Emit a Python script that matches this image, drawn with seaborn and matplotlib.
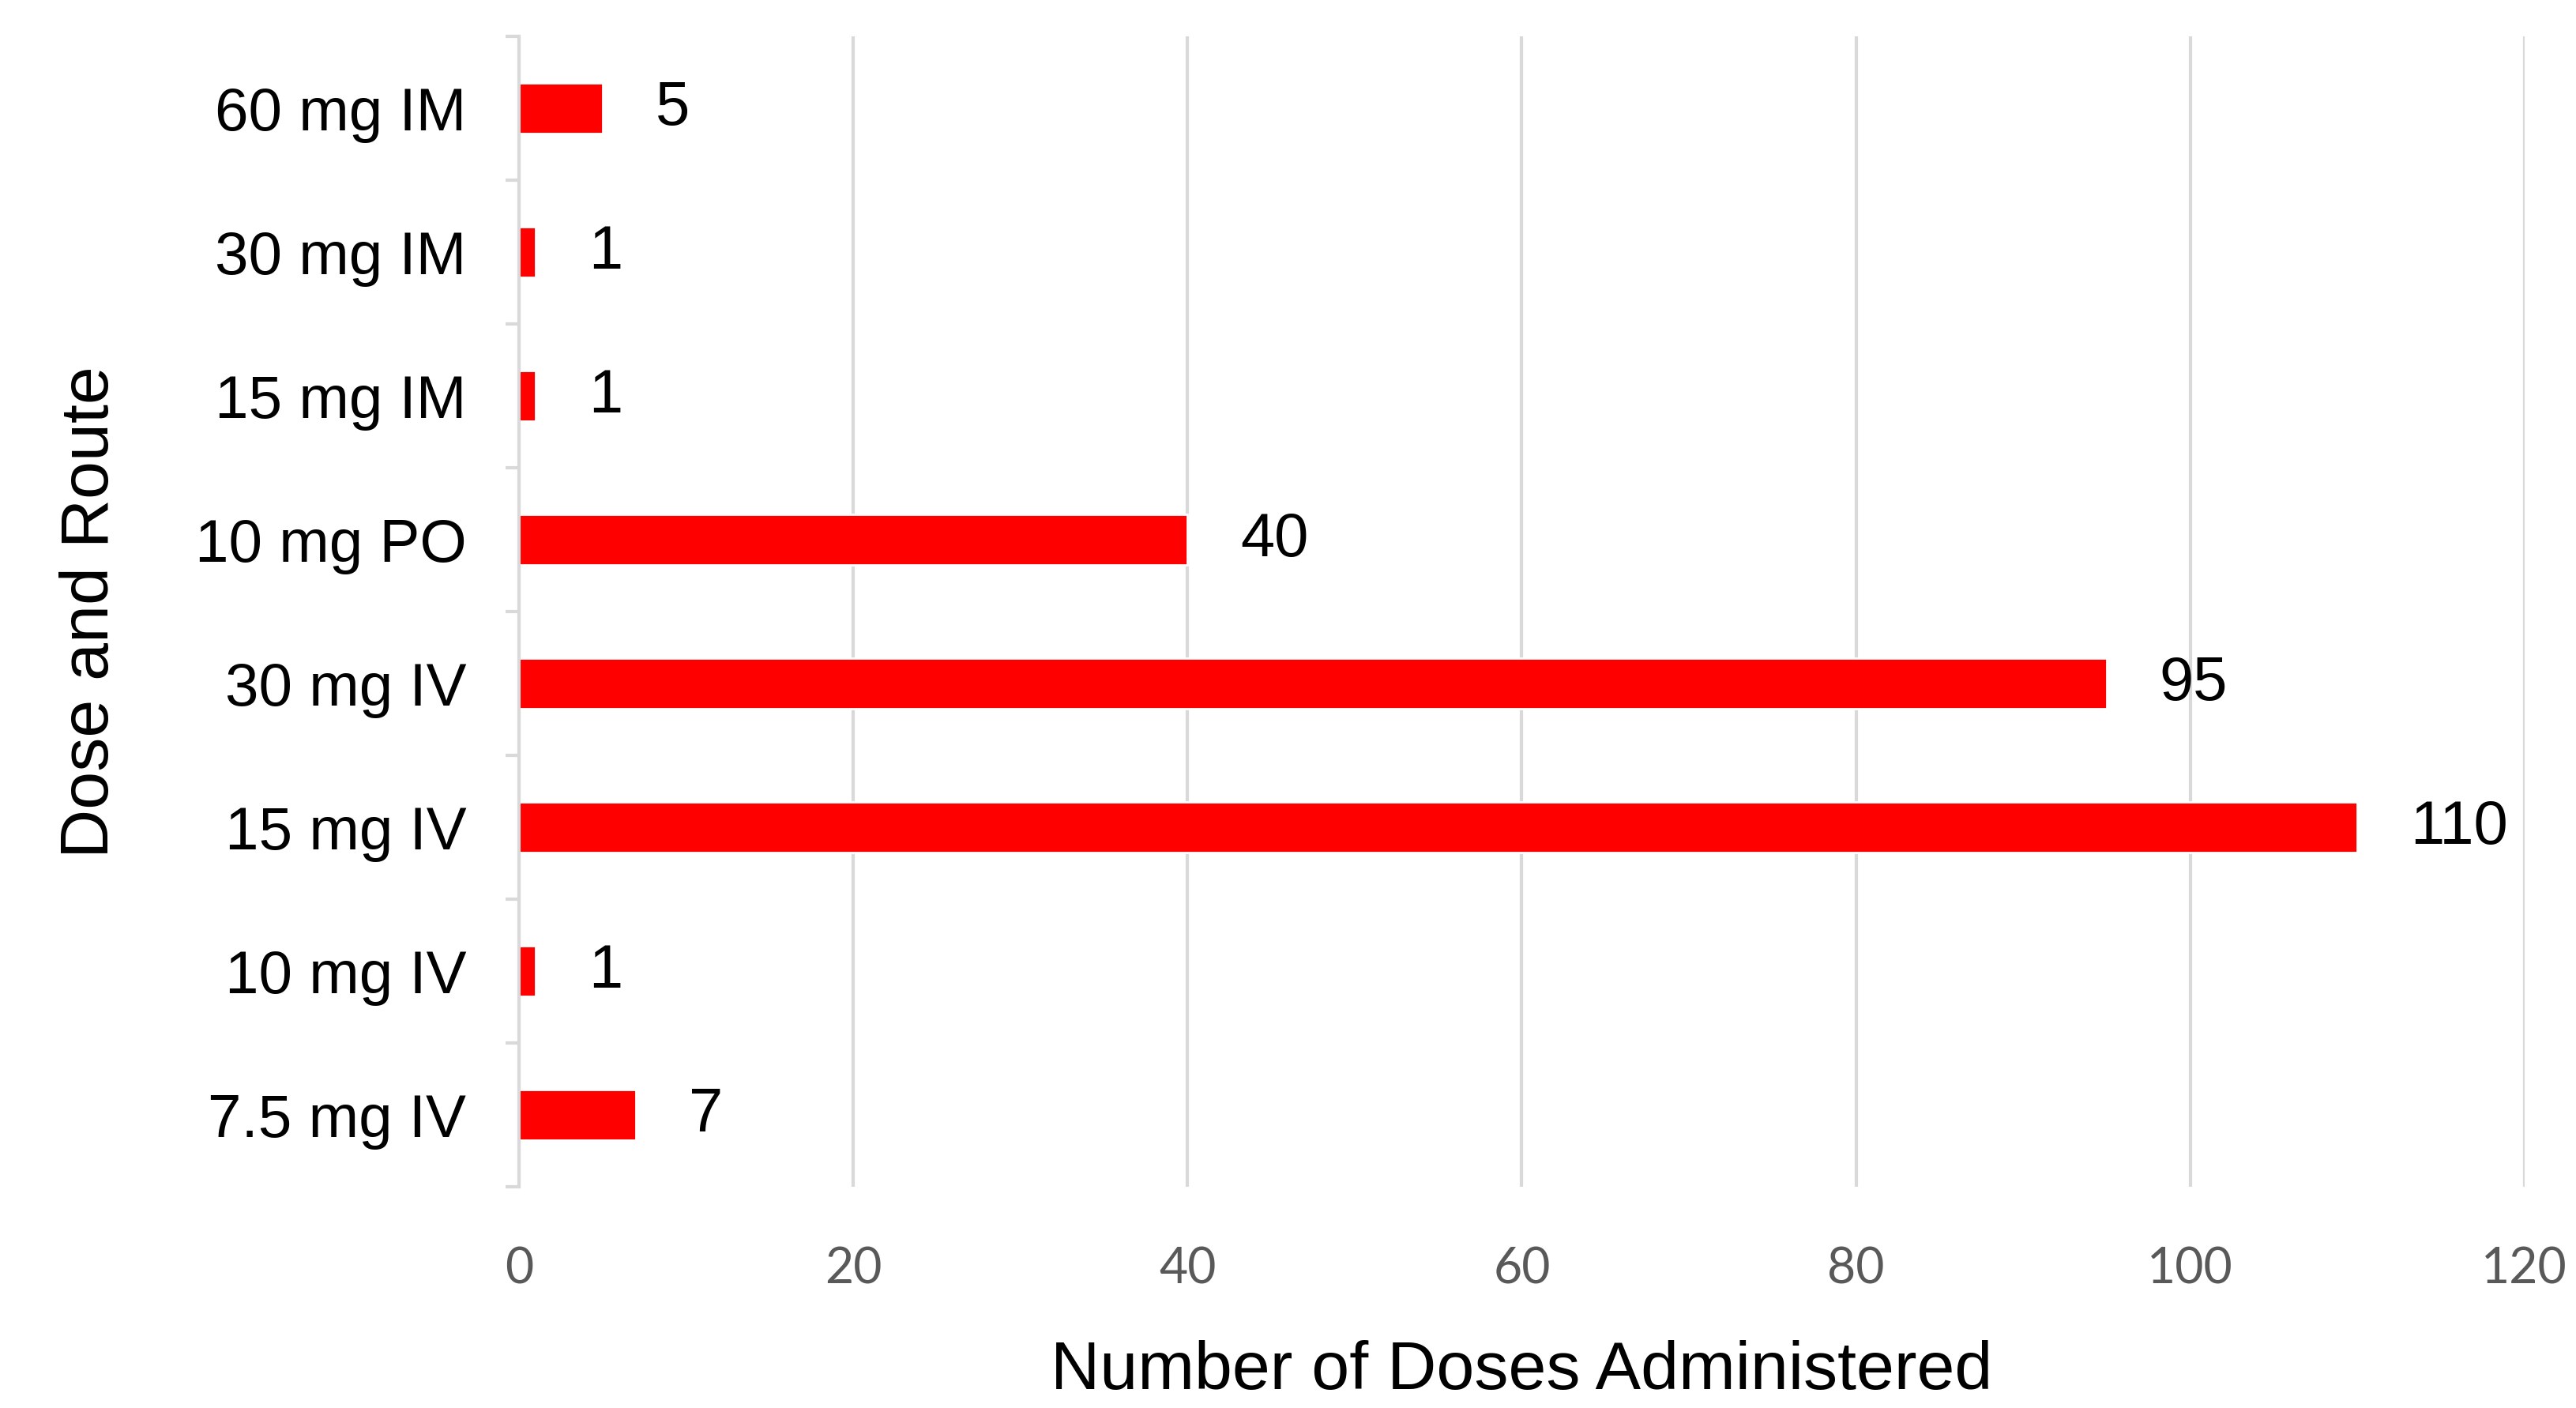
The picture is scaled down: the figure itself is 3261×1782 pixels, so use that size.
import matplotlib
matplotlib.use("Agg")
import matplotlib.pyplot as plt
import numpy as np
import pandas as pd
import seaborn as sns

categories = ["60 mg IM", "30 mg IM", "15 mg IM", "10 mg PO",
              "30 mg IV", "15 mg IV", "10 mg IV", "7.5 mg IV"]
doses = [5, 1, 1, 40, 95, 110, 1, 7]
x_ticks = [0, 20, 40, 60, 80, 100, 120]

data = pd.DataFrame({"route": categories, "doses": doses})

sns.set_style("white")
plt.rcParams["font.family"] = ["Liberation Sans", "DejaVu Sans"]

fig = plt.figure(figsize=(16.305, 8.91), dpi=200)
ax = fig.add_axes([0.2015, 0.157, 0.7785, 0.817])

sns.barplot(data=data, x="doses", y="route", orient="h", color="#fe0000",
            width=0.35, saturation=1, ax=ax)

# value labels next to the bars
ax.bar_label(ax.containers[0], labels=[str(v) for v in doses],
             padding=24, fontsize=28, color="black")

grid_color = "#d9d9d9"
ax.set_xlim(0, 120)
ax.set_xticks(x_ticks)
ax.set_xticklabels([str(t) for t in x_ticks], family=["Lato", "DejaVu Sans"],
                   fontsize=22.5, color="#595959")
ax.tick_params(axis="x", length=0, pad=27)
ax.xaxis.grid(True, color=grid_color, linewidth=1.5)
ax.set_axisbelow(True)

ax.set_ylim(len(categories) - 0.5, -0.5)
ax.tick_params(axis="y", which="major", left=False, length=0, pad=24,
               labelsize=27.5, labelcolor="black")
ax.set_yticks(np.arange(-0.5, len(categories), 1.0), minor=True)
ax.tick_params(axis="y", which="minor", left=True, length=6, width=1.5,
               color=grid_color, direction="out")

for side in ["top", "right", "bottom"]:
    ax.spines[side].set_visible(False)
ax.spines["left"].set_color(grid_color)
ax.spines["left"].set_linewidth(1.5)

ax.set_xlabel("Number of Doses Administered", fontsize=31, color="black",
              labelpad=22)
ax.set_ylabel("Dose and Route", fontsize=31, color="black", labelpad=33)

fig.savefig("out.png", dpi=200)
